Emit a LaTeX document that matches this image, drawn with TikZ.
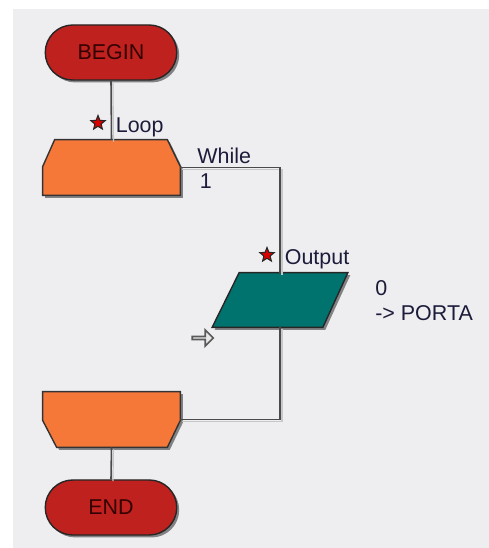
\documentclass[tikz,border=0pt]{standalone}
\usepackage{fontspec}
\setmainfont{Liberation Sans}
\usetikzlibrary{shapes.geometric,shapes.misc,shapes.arrows,shadows}
\definecolor{panelgray}{HTML}{EEEEF1}
\definecolor{termred}{HTML}{BF221E}
\definecolor{looporange}{HTML}{F57838}
\definecolor{outteal}{HTML}{00736E}
\definecolor{wiregray}{HTML}{4A4A4A}
\definecolor{labelink}{HTML}{1C1C3A}

\begin{document}
\begin{tikzpicture}[
    x=1cm, y=1cm,
    >=stealth,
    shade/.style={
      drop shadow={shadow xshift=1.4pt, shadow yshift=-1.4pt, opacity=0.45, fill=black},
    },
    termbox/.style={
      rounded rectangle, shade,
      minimum width=2.7cm, minimum height=1.1cm,
      fill=termred, draw=black!85, line width=0.8pt,
      text=black!80!red, font=\fontsize{12.2}{14}\selectfont,
      inner sep=1pt,
    },
    boxframe/.style={
      rectangle, minimum width=2.74cm, minimum height=1.1cm, inner sep=0pt,
    },
    loopfill/.style={
      shade, fill=looporange, draw=black!80, line width=0.8pt,
    },
    outframe/.style={
      rectangle, minimum width=2.7cm, minimum height=1.08cm, inner sep=0pt,
    },
    outfill/.style={
      shade, fill=outteal, draw=black!85, line width=0.8pt,
    },
    starmark/.style={
      star, star points=5, star point ratio=2.3,
      minimum size=0.3cm, inner sep=0pt,
      fill=red!85!black, draw=black!85, line width=0.6pt,
    },
    wire/.style={
      draw=wiregray, line width=0.9pt,
      preaction={draw=black!22, line width=0.7pt,
        transform canvas={xshift=1.1pt, yshift=-1.1pt}},
    },
    annot/.style={font=\fontsize{12.2}{14.2}\selectfont, text=labelink, inner sep=0pt},
  ]

  % --- panel ---
  \useasboundingbox (0,0) rectangle (9.78,10.96);
  \fill[panelgray] (0.26,0) rectangle (9.78,10.78);

  % ================================================================
  %  SHAPES
  % ================================================================
  \node[termbox] (begin) at (2.22, 9.91) {BEGIN};

  % loop head: top corners cut
  \node[boxframe] (loop) at (2.23, 7.61) {};
  \path[loopfill] ([xshift=0.24cm]loop.north west) -- ([xshift=-0.26cm]loop.north east)
    -- ([yshift=-0.54cm]loop.north east) -- (loop.south east)
    -- (loop.south west) -- ([yshift=-0.54cm]loop.north west) -- cycle;

  % output: parallelogram
  \node[outframe] (out) at (5.60, 4.96) {};
  \path[outfill] ([xshift=0.54cm]out.north west) -- (out.north east)
    -- ([xshift=-0.5cm]out.south east) -- (out.south west) -- cycle;

  % loop tail: bottom corners cut
  \node[boxframe] (loopend) at (2.23, 2.57) {};
  \path[loopfill] (loopend.north west) -- (loopend.north east)
    -- ([yshift=0.54cm]loopend.south east) -- ([xshift=-0.26cm]loopend.south east)
    -- ([xshift=0.28cm]loopend.south west) -- ([yshift=0.54cm]loopend.south west) -- cycle;

  \node[termbox] (end) at (2.22, 0.81) {END};

  % ================================================================
  %  CONNECTORS
  % ================================================================
  \draw[wire] (begin.south) -- (loop.north);
  \draw[wire] (loop.east) -| (out.north);
  \draw[wire] (out.south) |- (loopend.east);
  \draw[wire] (loopend.south) -- (end.north);

  % ================================================================
  %  ANNOTATIONS
  % ================================================================
  \node[starmark] (loopstar) at (1.96, 8.50) {};
  \node[annot, anchor=west] (looplab) at (2.31, 8.42) {Loop};
  \node[annot, anchor=west] (whilelab) at (3.94, 7.84) {While};
  \node[annot, anchor=west] (countlab) at (3.99, 7.34) {1};

  \node[starmark] (outstar) at (5.34, 5.86) {};
  \node[annot, anchor=west] (outlab) at (5.69, 5.77) {Output};
  \node[annot, anchor=west, align=left] (outval) at (7.50, 4.95) {0\\-> PORTA};

  \node[single arrow, minimum height=0.42cm, minimum width=0.32cm,
    single arrow head extend=0.07cm, single arrow head indent=0cm, inner sep=0pt,
    fill=gray!18, draw=black!65, line width=0.9pt]
    (cursor) at (4.04, 4.20) {};

\end{tikzpicture}
\end{document}
